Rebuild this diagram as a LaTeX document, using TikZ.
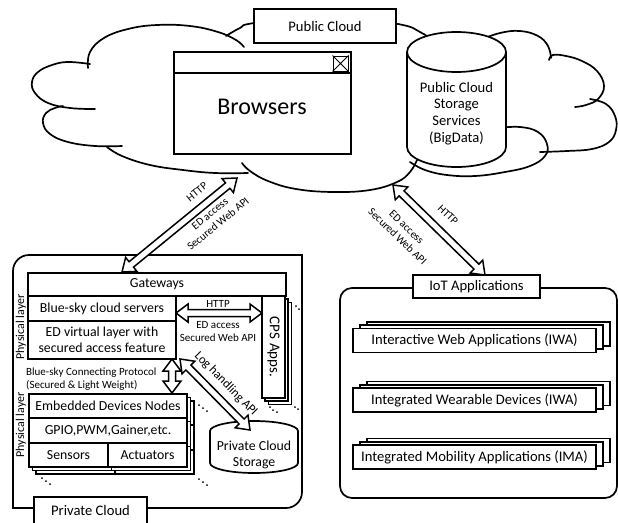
\documentclass[tikz,border=0pt]{standalone}
\usepackage{fontspec}
\setmainfont{Carlito}
\usetikzlibrary{calc}
\newcommand\hollowdbl[2]{%
  \path ($(#1)!12pt!(#2)$) coordinate (hA) ($(#2)!12pt!(#1)$) coordinate (hB);
  \draw[arrline] (#1) -- ($(hA)!9pt!90:(#2)$) -- ($(hA)!3.5pt!90:(#2)$) -- ($(hB)!3.5pt!-90:(#1)$) -- ($(hB)!9pt!-90:(#1)$) -- (#2) -- ($(hB)!9pt!90:(#1)$) -- ($(hB)!3.5pt!90:(#1)$) -- ($(hA)!3.5pt!-90:(#2)$) -- ($(hA)!9pt!-90:(#2)$) -- cycle;
}
\begin{document}
\begin{tikzpicture}[x=1pt,y=-1pt,
  box/.style={draw, line width=1.7pt, fill=white, inner sep=0pt, align=center},
  lw/.style={line width=1.7pt},
  cl/.style={line width=1.7pt, line cap=round},
  arrline/.style={draw, line width=1.5pt, fill=white, line join=miter},
  tbig/.style={font=\fontsize{14.6}{17.5}\selectfont},
  tmid/.style={font=\fontsize{13.8}{16}\selectfont},
  tsm/.style={font=\fontsize{11}{13}\selectfont, inner sep=0pt, align=center},
  dot/.style={fill=black}]
\useasboundingbox (0,0) rectangle (618,522);
% ---------- cloud ----------
\draw[cl] plot[smooth, tension=0.7] coordinates {(88,68) (90,52) (104,38) (128,29) (157,25) (190,26) (218,32) (236,40) (244,47)};
\draw[cl] plot[smooth, tension=0.7] coordinates {(226,36) (240,28) (254,23) (326,14) (398,24) (420,32) (432,40)};
\draw[cl] plot[smooth, tension=0.7] coordinates {(480,40) (500,33) (520,31) (538,36) (548,46) (551,58)};
\draw[cl] plot[smooth, tension=0.7] coordinates {(549,60) (553,55) (566,56) (582,61) (597,71) (604,86) (598,99) (586,105) (575,107)};
\draw[cl] plot[smooth, tension=0.7] coordinates {(590,99) (606,104) (615,116) (616,130) (609,142) (592,149) (567,151) (540,152)};
\draw[cl] plot[smooth, tension=0.7] coordinates {(498,128) (520,127) (538,132) (547,144) (545,156) (530,166) (505,172) (475,176) (447,175) (425,170) (410,162)};
\draw[cl] plot[smooth, tension=0.7] coordinates {(417,160) (410,172) (397,182) (370,190) (333,192) (296,189) (268,181) (250,171) (242,163)};
\draw[cl] plot[smooth, tension=0.7] coordinates {(107,147) (122,156) (150,165) (183,170) (215,173) (248,173)};
\draw[cl] plot[smooth, tension=0.7] coordinates {(122,146) (95,146) (68,142) (50,134) (43,123) (46,113) (55,108) (63,106)};
\draw[cl] plot[smooth, tension=0.7] coordinates {(95,109) (70,108) (48,103) (35,93) (32,82) (38,72) (52,65) (68,62) (90,64)};
% ---------- public cloud content ----------
\node[box, tbig, minimum width=142pt, minimum height=34pt] (pub) at (325,26) {Public Cloud};
\node[box, minimum width=177pt, minimum height=102pt] (brw) at (262.5,103) {};
\draw[lw] (174,73) -- (351,73);
\node[draw, line width=1pt, minimum width=15pt, minimum height=15pt, inner sep=0pt] (cls) at (340.5,63.5) {};
\draw[line width=0.8pt] (cls.north west) -- (cls.south east) (cls.north east) -- (cls.south west);
\node[font=\fontsize{24}{28}\selectfont] (brwt) at (262,107) {Browsers};
\draw[box] (407,52) -- (407,147) arc[start angle=180,end angle=360,x radius=49.5pt,y radius=20pt] -- (506,52) arc[start angle=0,end angle=180,x radius=49.5pt,y radius=20pt] -- cycle;
\draw[lw] (407,52) arc[start angle=180,end angle=360,x radius=49.5pt,y radius=20pt];
\node[tbig, align=center, font=\fontsize{14.6}{16.8}\selectfont] (pcs) at (456.5,113.5) {Public Cloud\\Storage\\Services\\(BigData)};
% ---------- private cloud ----------
\draw[lw] (34,508) -- (13,508) -- (13,271) arc[start angle=180,end angle=90,radius=16pt] -- (302,255) -- (302,492) arc[start angle=0,end angle=-90,radius=16pt] -- (147,508);
\node[box, tbig, minimum width=113pt, minimum height=30pt] (prv) at (90.5,512) {\raisebox{3pt}{Private Cloud}};
\node[box, tmid, minimum width=258pt, minimum height=23pt] (gw) at (157,284.5) {Gateways};
\node[box, tmid, minimum width=148pt, minimum height=25pt] (bss) at (102,308.5) {Blue-sky cloud servers};
\node[box, tmid, minimum width=148pt, minimum height=38pt] (edv) at (102,340) {ED virtual layer with\\secured access feature};
\foreach \o in {6.6,3.3} {\draw[box] (262+\o,296+\o) rectangle (285+\o,398+\o);}
\node[box, minimum width=23pt, minimum height=102pt] (cps) at (273.5,347) {};
\node[rotate=-90, font=\fontsize{15}{17}\selectfont] (cpst) at (cps.center) {CPS Apps.};
\node[font=\fontsize{12}{14}\selectfont, rotate=90, inner sep=0pt] (phy1) at (21,327) {Physical layer};
\node[font=\fontsize{12}{14}\selectfont, rotate=90, inner sep=0pt] (phy2) at (21,425) {Physical layer};
\node[font=\fontsize{11}{12.5}\selectfont, anchor=west, align=left, inner sep=0pt] (bcp) at (26,379) {Blue-sky Connecting Protocol\\(Secured \& Light Weight)};
\foreach \o in {7,3.5} {
  \draw[box] (29+\o,394+\o) rectangle (187+\o,467+\o);
  \draw[lw] (29+\o,418+\o) -- (187+\o,418+\o) (29+\o,443+\o) -- (187+\o,443+\o) (108+\o,443+\o) -- (108+\o,467+\o);
}
\node[box, tmid, minimum width=158pt, minimum height=24pt] (edn) at (108,406) {Embedded Devices Nodes};
\node[box, tmid, minimum width=158pt, minimum height=25pt] (gpio) at (108,430.5) {GPIO,PWM,Gainer,etc.};
\node[box, tmid, minimum width=79pt, minimum height=24pt] (sen) at (68.5,455) {Sensors};
\node[box, tmid, minimum width=79pt, minimum height=24pt] (act) at (147.5,455) {Actuators};
% dots
\foreach \p in {(199,405),(203,408),(207,411),(42,478),(46,481),(50,484),(199,479),(203,482),(207,485),(296,306),(299,309),(302,312),(295,407),(298,409),(302,411),(270,407),(273,410),(277,412)} {\fill \p circle[radius=1pt];}
% private storage
\draw[box] (210,431) -- (210,463) arc[start angle=180,end angle=360,x radius=44pt,y radius=10pt] -- (298,431) arc[start angle=0,end angle=180,x radius=44pt,y radius=10pt] -- cycle;
\node[tmid, align=center] (prs) at (254,455) {Private Cloud\\Storage};
% ---------- IoT ----------
\node[draw, lw, rounded corners=12pt, minimum width=277pt, minimum height=210pt] (iot) at (478.5,393) {};
\node[box, tbig, minimum width=127pt, minimum height=23pt] (iotl) at (476.5,286.5) {IoT Applications};
\foreach \yy/\nm/\tx in {340.5/iwa/Interactive Web Applications (IWA), 400/iwd/Integrated Wearable Devices (IWA), 457/ima/Integrated Mobility Applications (IMA)} {
  \draw[box] (353+14,\yy-12-6.5) rectangle (596+14,\yy+12-6.5);
  \draw[box] (353+7,\yy-12-3.2) rectangle (596+7,\yy+12-3.2);
  \node[box, tbig, minimum width=243pt, minimum height=24pt] (\nm) at (474.5,\yy) {\tx};
}
% ---------- arrows ----------
\coordinate (a1s) at (237,178);
\coordinate (a1e) at (122,272);
\hollowdbl{a1e}{a1s}
\node[tsm, rotate=39.3] (l1a) at (197,192) {HTTP};
\node[tsm, rotate=39.3] (l1b) at (214,219) {ED access\\Secured Web API};
\coordinate (a2s) at (393,185);
\coordinate (a2e) at (485,275);
\hollowdbl{a2s}{a2e}
\node[tsm, rotate=-44] (l2a) at (448,215) {HTTP};
\node[tsm, rotate=-44] (l2b) at (402,232) {ED access\\Secured Web API};
\coordinate (a3s) at (176,313);
\coordinate (a3e) at (262,313);
\hollowdbl{a3s}{a3e}
\node[tsm] (l3a) at (218,304) {HTTP};
\node[tsm] (l3b) at (218,332) {ED access\\Secured Web API};
\coordinate (a4s) at (172,359);
\coordinate (a4e) at (172,393);
\hollowdbl{a4s}{a4e}
\coordinate (a5s) at (180,359);
\coordinate (a5e) at (250,430);
\hollowdbl{a5s}{a5e}
\node[font=\fontsize{12.5}{14}\selectfont, rotate=-45.4, inner sep=0pt] (l5) at (226,384) {Log handling API};
\end{tikzpicture}
\end{document}
